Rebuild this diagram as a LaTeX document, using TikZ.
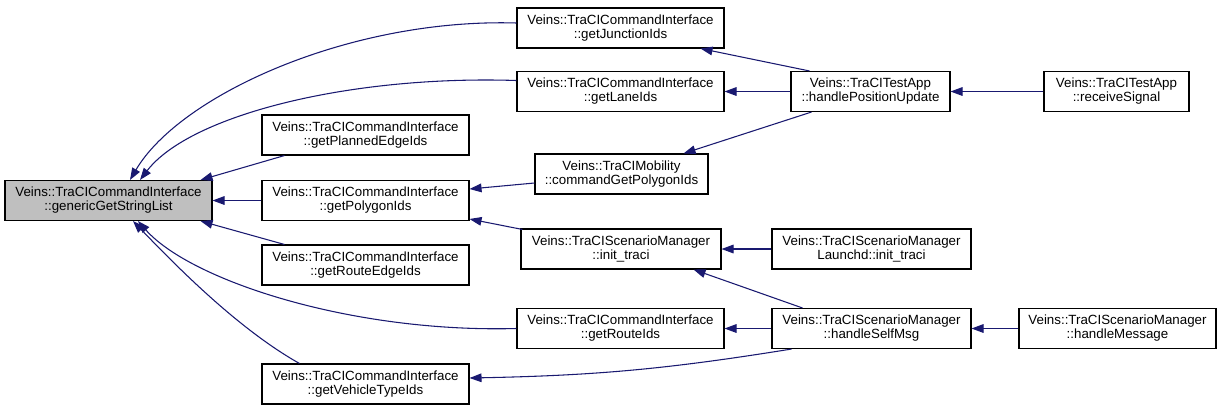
\documentclass[tikz,border=0pt]{standalone}
\usepackage{fontspec}
\setmainfont{Liberation Sans}
\usetikzlibrary{arrows.meta,calc}
\definecolor{edgecol}{HTML}{191970}
\definecolor{hilite}{HTML}{BFBFBF}
\begin{document}
\begin{tikzpicture}[x=0.75pt,y=-0.75pt,
  box/.style={draw=black, fill=white, line width=0.8pt, align=center,
    font=\fontsize{10}{10.5}\selectfont, inner sep=0pt,
    minimum height=30pt, minimum width=#1*0.75pt},
  cur/.style={box=#1, fill=hilite},
  edge/.style={draw=edgecol, line width=0.8pt,
    -{Triangle[length=9pt,width=6.5pt]}}]
\useasboundingbox (0,0) rectangle (1221,408);

\node[cur=207] (gen) at (108.5,200.5) {Veins::TraCICommandInterface\\::genericGetStringList};
\node[box=207] (jun) at (620.5,28) {Veins::TraCICommandInterface\\::getJunctionIds};
\node[box=207] (lane) at (620.5,91.5) {Veins::TraCICommandInterface\\::getLaneIds};
\node[box=207] (plan) at (365.5,135) {Veins::TraCICommandInterface\\::getPlannedEdgeIds};
\node[box=207] (poly) at (365.5,200.5) {Veins::TraCICommandInterface\\::getPolygonIds};
\node[box=207] (redge) at (365.5,265) {Veins::TraCICommandInterface\\::getRouteEdgeIds};
\node[box=207] (rid) at (620.5,328.5) {Veins::TraCICommandInterface\\::getRouteIds};
\node[box=207] (vt) at (365.5,384) {Veins::TraCICommandInterface\\::getVehicleTypeIds};
\node[box=173] (cmd) at (621.5,174) {Veins::TraCIMobility\\::commandGetPolygonIds};
\node[box=200] (init) at (621,249) {Veins::TraCIScenarioManager\\::init\_traci};
\node[box=159] (hpu) at (870.5,91.5) {Veins::TraCITestApp\\::handlePositionUpdate};
\node[box=145] (recv) at (1116.5,91.5) {Veins::TraCITestApp\\::receiveSignal};
\node[box=199] (lch) at (871.5,249) {Veins::TraCIScenarioManager\\Launchd::init\_traci};
\node[box=199] (sm) at (871.5,328.5) {Veins::TraCIScenarioManager\\::handleSelfMsg};
\node[box=197] (hm) at (1117.5,328.5) {Veins::TraCIScenarioManager\\::handleMessage};

% edges into genericGetStringList
\draw[edge] ($(jun.west)+(0,-5)$) .. controls (350,18) and (180,95) .. ($(gen.north)+(21.5,0)$);
\draw[edge] ($(lane.west)+(0,-11)$) .. controls (350,75) and (190,115) .. ($(gen.north)+(31.5,0)$);
\draw[edge] ($(plan.south west)+(23,0)$) -- ($(gen.north east)+(-12,0)$);
\draw[edge] (poly.west) -- (gen.east);
\draw[edge] ($(redge.north west)+(23,0)$) -- ($(gen.south east)+(-12,0)$);
\draw[edge] ($(rid.west)+(0,0)$) .. controls (350,333) and (190,280) .. ($(gen.south)+(29.5,0)$);
\draw[edge] ($(vt.north west)+(38,0)$) .. controls (240,330) and (180,270) .. ($(gen.south)+(24.5,0)$);

% second level
\draw[edge] ($(cmd.west)+(0,9)$) -- ($(poly.east)+(0,-11.5)$);
\draw[edge] ($(init.north west)+(2,1)$) -- ($(poly.east)+(0,18.5)$);
\draw[edge] ($(hpu.north west)+(19,0)$) -- ($(jun.south east)+(-24,0)$);
\draw[edge] (hpu.west) -- (lane.east);
\draw[edge] ($(hpu.south west)+(21,0)$) -- ($(cmd.north east)+(-25,0)$);
\draw[edge] (recv.west) -- (hpu.east);
\draw[edge] (lch.west) -- (init.east);
\draw[edge] ($(sm.north west)+(31,0)$) -- ($(init.south east)+(-28,0)$);
\draw[edge] (sm.west) -- (rid.east);
\draw[edge] ($(sm.south west)+(20,0)$) to[bend left=4] ($(vt.east)+(0,-6)$);
\draw[edge] (hm.west) -- (sm.east);
\end{tikzpicture}
\end{document}
